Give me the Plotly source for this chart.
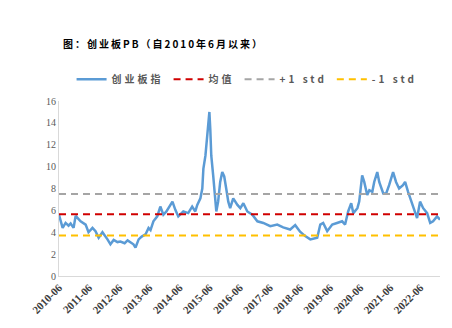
import plotly.graph_objects as go

# ---- data ----
dates = [
    "2010-06-01", "2010-07-15", "2010-08-20", "2010-09-25", "2010-10-20", "2010-11-25",
    "2010-12-20", "2011-01-25", "2011-02-18", "2011-04-20", "2011-05-25", "2011-07-12",
    "2011-08-18", "2011-09-25", "2011-11-10", "2012-01-10", "2012-02-15", "2012-03-25",
    "2012-05-10", "2012-06-15", "2012-08-05", "2012-09-10", "2012-10-15", "2012-11-20",
    "2012-12-15", "2013-01-22", "2013-02-28", "2013-04-15", "2013-05-22", "2013-06-15",
    "2013-07-20", "2013-09-05", "2013-10-12", "2013-11-18", "2013-12-25", "2014-01-18",
    "2014-03-08", "2014-04-12", "2014-05-18", "2014-07-18", "2014-09-15", "2014-11-02",
    "2014-12-10", "2015-01-03", "2015-02-10", "2015-03-05", "2015-03-18", "2015-04-12",
    "2015-05-05", "2015-05-30", "2015-06-10", "2015-06-22", "2015-07-15", "2015-07-27",
    "2015-08-22", "2015-09-13", "2015-10-08", "2015-11-02", "2015-11-26", "2015-12-20",
    "2016-01-14", "2016-02-06", "2016-03-14", "2016-05-04", "2016-06-08", "2016-07-15",
    "2016-09-01", "2016-11-01", "2017-01-01", "2017-03-14", "2017-06-06", "2017-08-30",
    "2017-11-10", "2018-02-03", "2018-04-05", "2018-06-03", "2018-08-04", "2018-10-05",
    "2018-12-28", "2019-02-03", "2019-03-10", "2019-04-28", "2019-06-28", "2019-08-25",
    "2019-10-26", "2019-12-01", "2020-01-07", "2020-02-13", "2020-03-10", "2020-04-28",
    "2020-05-20", "2020-06-25", "2020-07-20", "2020-08-25", "2020-09-20", "2020-10-26",
    "2020-11-18", "2020-12-25", "2021-01-18", "2021-03-08", "2021-04-12", "2021-05-18",
    "2021-07-05", "2021-08-10", "2021-09-16", "2021-11-02", "2021-11-28", "2022-01-03",
    "2022-02-20", "2022-03-28", "2022-04-22", "2022-05-28", "2022-07-05", "2022-08-22",
    "2022-09-28", "2022-11-02", "2022-12-20", "2023-01-25",
]
pb = [
    5.6, 4.4, 4.85, 4.6, 4.8, 4.4,
    5.5, 5.2, 5.0, 4.7, 4.0, 4.4,
    4.1, 3.5, 4.0, 3.35, 2.9, 3.3,
    3.1, 3.15, 3.0, 3.25, 3.1, 2.9,
    2.6, 3.35, 3.6, 3.8, 4.4, 4.2,
    5.0, 5.45, 6.35, 5.6, 5.9, 6.2,
    6.8, 6.05, 5.45, 5.9, 5.75, 6.35,
    5.9, 6.5, 7.1, 8.0, 9.8, 11.0,
    12.8, 15.0, 13.4, 11.0, 9.2, 8.0,
    5.9, 6.8, 8.6, 9.5, 9.1, 8.0,
    6.8, 6.2, 7.1, 6.5, 6.2, 6.65,
    5.9, 5.6, 5.0, 4.85, 4.55, 4.7,
    4.45, 4.25, 4.65, 4.05, 3.65, 3.35,
    3.5, 4.7, 4.85, 4.1, 4.7, 4.85,
    5.0, 4.7, 5.9, 6.65, 5.75, 6.2,
    6.8, 9.2, 8.6, 7.4, 7.85, 7.7,
    8.6, 9.5, 8.6, 7.55, 7.55, 8.3,
    9.5, 8.6, 8.0, 8.3, 8.6, 7.7,
    6.65, 5.9, 5.3, 6.8, 6.2, 5.75,
    4.85, 5.0, 5.45, 5.15,
]
mean_val = 5.64
plus_std = 7.49
minus_std = 3.71

tick_vals = ["2010-06-01", "2011-06-01", "2012-06-01", "2013-06-01", "2014-06-01",
             "2015-06-01", "2016-06-01", "2017-06-01", "2018-06-01", "2019-06-01",
             "2020-06-01", "2021-06-01", "2022-06-01"]
tick_text = ["2010-06", "2011-06", "2012-06", "2013-06", "2014-06", "2015-06",
             "2016-06", "2017-06", "2018-06", "2019-06", "2020-06", "2021-06", "2022-06"]

x_start = dates[0]
x_end = dates[-1]

LS = '<span style="letter-spacing:3px">{}</span>'

fig = go.Figure()
fig.add_trace(go.Scatter(x=dates, y=pb, mode="lines", name=LS.format("创业板指"),
                         line=dict(color="#5B9BD5", width=2.5)))
fig.add_trace(go.Scatter(x=[x_start, x_end], y=[mean_val, mean_val], mode="lines",
                         name=LS.format("均值"),
                         line=dict(color="#D00000", width=2, dash="7px,5px")))
fig.add_trace(go.Scatter(x=[x_start, x_end], y=[plus_std, plus_std], mode="lines",
                         name=LS.format("+1 std"),
                         line=dict(color="#A5A5A5", width=2, dash="7px,5px")))
fig.add_trace(go.Scatter(x=[x_start, x_end], y=[minus_std, minus_std], mode="lines",
                         name=LS.format("-1 std"),
                         line=dict(color="#FFC000", width=2, dash="7px,5px")))

fig.update_layout(
    width=452, height=328,
    margin=dict(l=59, r=12, t=101, b=49),
    paper_bgcolor="white", plot_bgcolor="white",
    showlegend=True,
    legend=dict(orientation="h", x=0.033, y=1.125, xanchor="left", yanchor="middle",
                font=dict(family="Noto Sans CJK SC", size=10, color="#595959", weight="bold"),
                itemwidth=30, tracegroupgap=0, bgcolor="rgba(0,0,0,0)"),
    annotations=[dict(
        text='<b><span style="letter-spacing:2px">图：创业板PB（自2010年6月以来）</span></b>',
        xref="paper", yref="paper", x=0.005, y=1.33, xanchor="left", yanchor="middle",
        showarrow=False, font=dict(family="Noto Sans CJK SC", size=10, color="#000000"))],
    xaxis=dict(type="date", range=[x_start, x_end], tickvals=tick_vals, ticktext=tick_text,
               tickangle=-45, showgrid=False, zeroline=False, showline=True,
               linecolor="#D9D9D9", linewidth=1, ticks="",
               tickfont=dict(family="Liberation Serif", size=11, color="#404040", weight="bold")),
    yaxis=dict(range=[0, 16], dtick=2, showgrid=False, zeroline=False, showline=True,
               linecolor="#D9D9D9", linewidth=1, ticks="",
               tickfont=dict(family="Liberation Serif", size=10, color="#595959")),
)

fig.write_html("out.html")
